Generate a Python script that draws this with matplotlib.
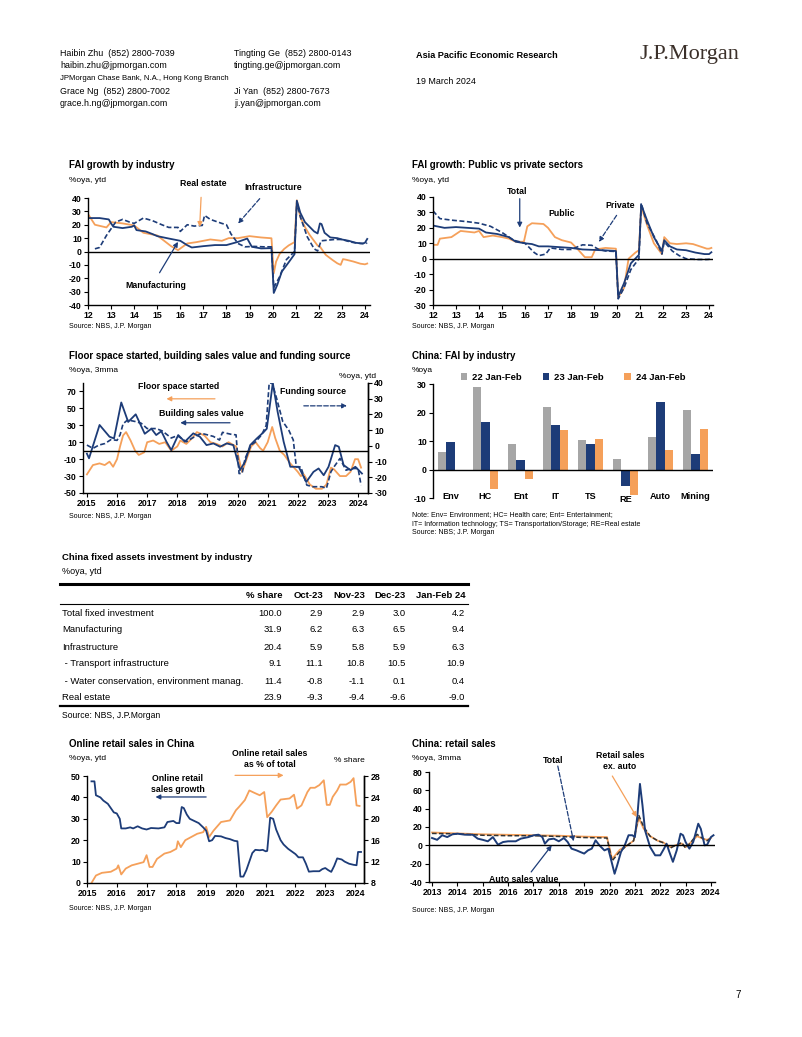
import numpy as np
import matplotlib.pyplot as plt

NAVY = "#1d3c78"
ORANGE = "#f5a05a"
GREY = "#a6a6a6"

plt.rcParams['font.family'] = ['Liberation Sans', 'DejaVu Sans']
plt.rcParams['axes.linewidth'] = 1.0
plt.rcParams['axes.unicode_minus'] = False
plt.rcParams['xtick.major.size'] = 3
plt.rcParams['ytick.major.size'] = 3

# ---------------- data ----------------
# FAI growth by industry (%oya, ytd), x = year - 2000
manufacturing = [(12.0, 25), (12.5, 25), (12.9, 24), (13.0, 21), (13.1, 18.5), (13.5, 17.5), (13.9, 18.5),
                 (14.0, 19.5), (14.1, 16), (14.5, 15), (14.8, 13), (15.0, 11.5), (15.5, 9.7), (16.0, 8),
                 (16.3, 4.7), (16.5, 3), (17.0, 4), (17.5, 4.8), (18.0, 4.8), (18.5, 7.2), (18.9, 9.7),
                 (19.1, 3.5), (19.5, 2.3), (19.95, 2.5), (20.05, -31), (20.2, -25), (20.4, -15), (20.7, -8),
                 (20.95, -2), (21.05, 38), (21.2, 29), (21.4, 22), (21.8, 15), (21.95, 13.5), (22.05, 21),
                 (22.12, 20.5), (22.25, 14), (22.5, 10.5), (22.8, 10), (23.0, 9), (23.3, 8), (23.6, 6.5),
                 (23.9, 6), (24.0, 6.5), (24.1, 9.4)]
real_estate = [(12.0, 28), (12.3, 20), (12.8, 18), (13.0, 22), (13.5, 21), (14.0, 19.5), (14.4, 14),
               (15.0, 12), (15.6, 4), (15.9, 1), (16.3, 6), (16.7, 7), (17.3, 9), (17.8, 8), (18.1, 10),
               (18.5, 10), (19.0, 11.5), (19.5, 10.5), (19.95, 9.9), (20.05, -16.3), (20.15, -7.6),
               (20.3, -1.9), (20.5, 1.9), (20.7, 4.6), (20.95, 7.0), (21.05, 38.3), (21.2, 25.6),
               (21.4, 18.3), (21.6, 12.5), (21.95, 4.4), (22.05, 3.7), (22.3, -2.5), (22.6, -6.4),
               (22.8, -8.8), (22.95, -10), (23.05, -5.7), (23.2, -6.2), (23.5, -7.5), (23.8, -9.1),
               (24.0, -9.6), (24.1, -9.0)]
infrastructure = [(12.3, 2), (12.5, 3), (12.8, 12), (13.0, 17), (13.2, 22), (13.5, 24), (13.8, 22),
                  (14.0, 21), (14.4, 25), (14.8, 23), (15.2, 20), (15.5, 18), (15.9, 18), (16.0, 15),
                  (16.3, 20), (16.6, 19), (16.95, 19.5), (17.05, 27), (17.3, 24), (17.8, 21), (18.0, 20),
                  (18.2, 13), (18.5, 6), (18.8, 3.5), (19.2, 3.8), (19.6, 3.5), (19.95, 3.5), (20.05, -27),
                  (20.3, -19), (20.6, -6), (20.95, 0), (21.05, 37), (21.2, 26), (21.5, 11), (21.8, 2),
                  (21.95, 0.4), (22.1, 8), (22.4, 8.5), (22.7, 9), (23.0, 9), (23.4, 7), (23.8, 6),
                  (24.0, 5.9), (24.1, 6.3)]

# FAI growth: public vs private (%oya, ytd)
fai_total = [(12.0, 21.5), (12.5, 20), (13.0, 20.5), (13.5, 20), (14.0, 19.5), (14.3, 17), (14.8, 16),
             (15.3, 14), (15.6, 11), (16.0, 10), (16.3, 9.5), (16.6, 8), (17.0, 8), (17.5, 7.5),
             (18.0, 7), (18.5, 6), (19.0, 5.7), (19.5, 5.4), (19.95, 5), (20.05, -24.5), (20.3, -16),
             (20.6, -3), (20.95, 2.5), (21.05, 35), (21.3, 25), (21.6, 14), (21.95, 5), (22.05, 12),
             (22.3, 8), (22.6, 6), (23.0, 5.5), (23.4, 4), (23.8, 3), (24.0, 3), (24.1, 4.2)]
fai_private = [(12.0, 31), (12.3, 26), (12.8, 25), (13.5, 24), (14.0, 23), (14.5, 21), (15.0, 17),
               (15.5, 12), (16.0, 10), (16.4, 4), (16.6, 2), (16.9, 3), (17.1, 7), (17.6, 6), (18.0, 6),
               (18.5, 9), (18.9, 8.7), (19.2, 6), (19.5, 5), (19.95, 4.7), (20.05, -26), (20.3, -19),
               (20.6, -7), (20.95, 0), (21.05, 36), (21.3, 23), (21.7, 12), (21.95, 3), (22.05, 11),
               (22.4, 5), (22.7, 2), (23.0, 0), (23.5, -0.5), (23.9, -0.5), (24.0, -0.4), (24.1, 0.5)]
fai_public = [(12.0, 9), (12.2, 9), (12.3, 13), (12.8, 14), (13.2, 18), (13.8, 17), (14.0, 18), (14.2, 14),
              (14.6, 15), (15.0, 14), (15.3, 13), (15.6, 11), (15.95, 11), (16.1, 21), (16.3, 23),
              (16.8, 22.5), (17.0, 20), (17.3, 14), (17.6, 12), (18.0, 10.5), (18.3, 6), (18.6, 1),
              (18.9, 1), (19.05, 6), (19.5, 7), (19.95, 6.5), (20.05, -25), (20.3, -19), (20.5, 0),
              (20.8, 4), (20.95, 5.5), (21.05, 34), (21.3, 22), (21.6, 10), (21.95, 3), (22.05, 14),
              (22.3, 10), (22.6, 9.5), (23.0, 10), (23.3, 9.5), (23.6, 8), (23.9, 6.5), (24.0, 6.5),
              (24.1, 7)]

# Floor space started / building sales value (%oya, 3mma, left) and funding source (%oya, ytd, right)
sales_value = [(2015.0, -3.5), (2015.07, -9), (2015.42, 30.4), (2015.75, 16.5), (2015.9, 14.5),
               (2016.14, 57), (2016.37, 34), (2016.62, 43), (2016.92, 20), (2017.14, 26), (2017.3, 18.5),
               (2017.47, 23), (2017.64, 10.6), (2017.8, 0.7), (2018.03, 18.5), (2018.25, 10.6),
               (2018.53, 20.5), (2018.75, 16.5), (2018.97, 6.6), (2019.2, 8.6), (2019.42, 4.7),
               (2019.64, 8.6), (2019.86, 6.6), (2020.08, -23), (2020.25, -13), (2020.42, 6.6),
               (2020.64, 14.5), (2020.86, 21.7), (2020.97, 26), (2021.17, 80), (2021.33, 46),
               (2021.53, 10.6), (2021.75, -19), (2022.03, -19), (2022.28, -37), (2022.52, -25),
               (2022.69, -21), (2022.86, -29), (2023.02, -19), (2023.24, 6.6), (2023.36, 4.7),
               (2023.52, -17), (2023.75, -23), (2023.91, -19), (2024.13, -27)]
floor_space = [(2015.0, -28), (2015.2, -17), (2015.42, -15), (2015.59, -17), (2015.75, -13), (2015.87, -19),
               (2016.0, -10), (2016.1, 5), (2016.2, 18), (2016.3, 22), (2016.45, 12), (2016.6, 0),
               (2016.72, -5), (2016.9, -2), (2017.0, 10), (2017.2, 12), (2017.4, 8), (2017.6, 10),
               (2017.8, 0), (2018.0, 5), (2018.1, 12), (2018.3, 8), (2018.5, 15), (2018.65, 22),
               (2018.9, 18), (2019.1, 10), (2019.3, 8), (2019.5, 5), (2019.7, 10), (2019.95, 5),
               (2020.05, -10), (2020.15, -25), (2020.3, -10), (2020.45, 5), (2020.6, 10), (2020.75, 3),
               (2020.85, 0), (2021.0, 10), (2021.15, 28), (2021.25, 15), (2021.4, 0), (2021.55, -5),
               (2021.75, -15), (2022.0, -25), (2022.1, -30), (2022.2, -28), (2022.4, -40), (2022.6, -45),
               (2022.8, -45), (2022.95, -40), (2023.1, -20), (2023.2, -22), (2023.4, -30), (2023.6, -30),
               (2023.75, -25), (2023.9, -10), (2024.0, -10), (2024.1, -20)]
funding = [(2015.0, 0.5), (2015.2, -1.6), (2015.4, 0.5), (2015.6, 1.5), (2015.8, 4), (2016.0, 3.5),
           (2016.1, 7), (2016.2, 14), (2016.35, 16.5), (2016.6, 15.5), (2016.8, 14.4), (2017.0, 11),
           (2017.3, 11), (2017.5, 9.5), (2017.8, 5), (2018.0, 6.5), (2018.3, 2.6), (2018.5, 5),
           (2018.8, 8), (2019.2, 6), (2019.4, 3.7), (2019.5, 8.6), (2019.8, 7.3), (2019.95, 7),
           (2020.05, -17.6), (2020.15, -17.6), (2020.25, -8), (2020.45, 0.5), (2020.6, 2.6), (2020.8, 7),
           (2020.95, 13), (2021.05, 40), (2021.15, 40), (2021.3, 30), (2021.5, 15.5), (2021.7, 10),
           (2021.85, 3.7), (2021.95, -13.4), (2022.1, -13.4), (2022.3, -25), (2022.5, -26), (2022.8, -26),
           (2022.95, -27), (2023.1, -16.5), (2023.2, -13.4), (2023.4, -8), (2023.6, -15.5),
           (2023.8, -14.4), (2024.0, -14.4), (2024.1, -25)]

# China: FAI by industry (%oya)
industries = ["Env", "HC", "Ent", "IT", "TS", "RE", "Auto", "Mining"]
fai_22 = [6.1, 28.8, 9.0, 22.1, 10.5, 3.8, 11.3, 21.0]
fai_23 = [9.6, 16.6, 3.2, 15.6, 9.1, -5.7, 23.6, 5.4]
fai_24 = [0.0, -6.8, -3.2, 13.7, 10.8, -8.9, 6.9, 14.2]
bar_series = ["22 Jan-Feb", "23 Jan-Feb", "24 Jan-Feb"]

# China fixed assets investment by industry (table)
table_cols = ["% share", "Oct-23", "Nov-23", "Dec-23", "Jan-Feb 24"]
table_rows = ["Total fixed investment", "Manufacturing", "Infrastructure", " - Transport infrastructure",
              " - Water conservation, environment manag.", "Real estate"]
table_vals = [[100.0, 2.9, 2.9, 3.0, 4.2],
              [31.9, 6.2, 6.3, 6.5, 9.4],
              [20.4, 5.9, 5.8, 5.9, 6.3],
              [9.1, 11.1, 10.8, 10.5, 10.9],
              [11.4, -0.8, -1.1, 0.1, 0.4],
              [23.9, -9.3, -9.4, -9.6, -9.0]]

# Online retail sales in China
online_growth = [(2015.15, 47.5), (2015.25, 47.5), (2015.3, 41), (2015.45, 40), (2015.55, 38.5),
                 (2015.7, 37), (2015.8, 35), (2015.9, 33), (2016.0, 32.5), (2016.1, 30), (2016.15, 25.5),
                 (2016.3, 25.5), (2016.45, 26), (2016.55, 25.5), (2016.7, 26.5), (2016.85, 25.5),
                 (2017.0, 25), (2017.15, 25.7), (2017.4, 25.5), (2017.6, 26), (2017.7, 28.5), (2017.9, 29),
                 (2018.0, 28), (2018.1, 28), (2018.18, 35.5), (2018.25, 35), (2018.35, 32), (2018.45, 30),
                 (2018.6, 29), (2018.75, 28), (2018.9, 26), (2019.0, 24.5), (2019.1, 19.5), (2019.2, 20),
                 (2019.3, 22), (2019.5, 21.8), (2019.65, 21), (2019.8, 20.5), (2019.95, 19.7),
                 (2020.05, 19.5), (2020.15, 3), (2020.25, 3), (2020.35, 6), (2020.45, 10), (2020.55, 14),
                 (2020.65, 15.5), (2020.8, 15.3), (2020.9, 15.5), (2021.0, 14.8), (2021.05, 15),
                 (2021.15, 30.5), (2021.25, 30), (2021.35, 25), (2021.5, 20), (2021.6, 18), (2021.75, 16),
                 (2021.9, 14.5), (2022.0, 13.5), (2022.1, 12), (2022.25, 12), (2022.35, 9), (2022.45, 5.3),
                 (2022.6, 5.5), (2022.8, 5.5), (2022.9, 6.5), (2023.0, 7), (2023.1, 6), (2023.2, 5.2),
                 (2023.3, 8), (2023.4, 11.5), (2023.55, 11), (2023.65, 10), (2023.8, 9), (2023.95, 8.5),
                 (2024.05, 8.3), (2024.1, 14.5), (2024.2, 14.5)]
online_share = [(2015.15, 8), (2015.3, 9.4), (2015.5, 9.9), (2015.8, 10.1), (2016.0, 10.7), (2016.05, 11.3),
                (2016.15, 9.6), (2016.3, 10.7), (2016.5, 11.3), (2016.7, 11.6), (2016.9, 11.9), (2017.0, 13.2),
                (2017.1, 11), (2017.2, 11), (2017.35, 12.5), (2017.6, 13.5), (2017.8, 13.8), (2018.0, 14.4),
                (2018.05, 15.8), (2018.15, 14.7), (2018.3, 16), (2018.5, 16.6), (2018.7, 17.2), (2018.9, 17.5),
                (2019.0, 18.5), (2019.1, 16.6), (2019.25, 17.8), (2019.5, 19.4), (2019.8, 19.7), (2020.0, 21.6),
                (2020.1, 22.2), (2020.3, 23.5), (2020.45, 25.3), (2020.6, 24.9), (2020.8, 24.4), (2020.95, 25),
                (2021.05, 20.3), (2021.2, 21.3), (2021.35, 22.5), (2021.5, 23.6), (2021.8, 23.8),
                (2021.95, 24.5), (2022.05, 21.9), (2022.2, 22.5), (2022.4, 25), (2022.5, 25.8),
                (2022.65, 25.8), (2022.8, 26.3), (2022.95, 27.2), (2023.05, 22.6), (2023.15, 22.6),
                (2023.25, 24.1), (2023.4, 25.3), (2023.5, 26.4), (2023.7, 26.4), (2023.85, 26.9),
                (2023.95, 27.6), (2024.05, 22.5), (2024.15, 22.4)]

# China: retail sales (%oya, 3mma)
auto_sales = [(2013.0, 8), (2013.2, 6), (2013.4, 11), (2013.6, 9), (2013.8, 12), (2014.0, 12.7),
              (2014.3, 11.6), (2014.6, 11.6), (2014.8, 7.3), (2015.0, 6), (2015.2, 4.4), (2015.4, 9),
              (2015.6, 0.7), (2015.8, 3.6), (2016.0, 4.4), (2016.3, 4.4), (2016.5, 7.3), (2016.8, 9),
              (2017.0, 10.9), (2017.2, 11.6), (2017.35, 9), (2017.45, 1.8), (2017.6, 6.5), (2017.8, 7.3),
              (2018.0, 4.4), (2018.2, 8), (2018.35, 3.6), (2018.5, -3.6), (2018.7, -5.5), (2018.85, -7.3),
              (2019.0, -9), (2019.15, -5.5), (2019.3, -3.6), (2019.45, 5.5), (2019.6, 0), (2019.8, -5.5),
              (2019.95, -3.6), (2020.05, -14.5), (2020.2, -31), (2020.3, -22), (2020.45, -7.3),
              (2020.6, 0), (2020.75, 11), (2020.9, 11), (2021.0, 9), (2021.1, 32.7), (2021.2, 67),
              (2021.3, 43.6), (2021.4, 16.4), (2021.6, -1.8), (2021.8, -10.9), (2022.0, -10.9),
              (2022.15, -3.6), (2022.25, 1.8), (2022.35, -6.5), (2022.5, -18), (2022.65, -5.5),
              (2022.8, 12.7), (2022.9, 11), (2023.0, 3.6), (2023.15, -3.6), (2023.3, 3.6), (2023.5, 23.6),
              (2023.6, 18), (2023.75, 0), (2023.85, 0.7), (2024.0, 9), (2024.1, 11)]
retail_total = [(2013.0, 13), (2014.0, 12.5), (2015.0, 11), (2016.0, 10.5), (2017.0, 10.5), (2018.0, 9.7),
                (2019.0, 8.5), (2019.9, 8), (2020.1, -17), (2020.4, -7), (2020.7, 0), (2020.95, 5),
                (2021.15, 33), (2021.35, 20), (2021.6, 10), (2021.9, 5), (2022.1, 3), (2022.4, -3),
                (2022.6, 0), (2022.85, 3), (2023.0, -3), (2023.2, 3), (2023.45, 12), (2023.7, 7),
                (2023.85, 5), (2024.0, 8)]
retail_ex_auto = [(2013.0, 14), (2014.0, 13), (2015.0, 12), (2016.0, 11.5), (2017.0, 11), (2018.0, 10.5),
                  (2019.0, 9.5), (2019.9, 9), (2020.1, -15), (2020.4, -5), (2020.7, 0), (2020.95, 5),
                  (2021.15, 30), (2021.35, 18), (2021.6, 10), (2021.9, 5), (2022.1, 3.5), (2022.4, -2),
                  (2022.6, 0), (2022.85, 2), (2023.0, -2), (2023.2, 3), (2023.45, 10), (2023.7, 7),
                  (2023.85, 6), (2024.0, 8)]

# ---------------- layout helpers ----------------
W, H = 802, 1037
fig = plt.figure(figsize=(W / 100, H / 100), dpi=100)

page = fig.add_axes([0, 0, 1, 1])
page.set_xlim(0, W)
page.set_ylim(H, 0)
page.axis('off')


def box(l, t, r, b):
    return [l / W, 1 - b / H, (r - l) / W, (b - t) / H]


def xy(pairs):
    a = np.array(pairs, dtype=float)
    return a[:, 0], a[:, 1]


def style(ax, right=False):
    ax.set_facecolor('none')
    ax.spines['top'].set_visible(False)
    if not right:
        ax.spines['right'].set_visible(False)
    ax.tick_params(labelsize=6.3, pad=1.5, direction='out', width=0.8)
    for lab in ax.get_xticklabels() + ax.get_yticklabels():
        lab.set_fontweight('bold')


def arrow(ax, start, end, color, ls='-'):
    ax.annotate("", xy=end, xytext=start, annotation_clip=False,
                arrowprops=dict(arrowstyle='-|>', color=color, lw=0.9, ls=ls, mutation_scale=7,
                                shrinkA=0, shrinkB=0))


def label(ax, x, y, text):
    ax.text(x, y, text, fontsize=6.3, fontweight='bold', ha='center', va='center', linespacing=1.25,
            clip_on=False)


def head(x, y, title, unit=None):
    page.text(x, y, title, fontsize=7, fontweight='bold', va='center')
    if unit:
        page.text(x, y + 15, unit, fontsize=6, va='center')


# ---------------- page header ----------------
narrow = ['Liberation Sans Narrow', 'Liberation Sans']
hdr = dict(fontsize=6.4, va='center', family=narrow)
page.text(60, 54, "Haibin Zhu  (852) 2800-7039", **hdr)
page.text(60, 66, "haibin.zhu@jpmorgan.com", **hdr)
page.text(60, 78, "JPMorgan Chase Bank, N.A., Hong Kong Branch", fontsize=5.6, va='center', family=narrow)
page.text(60, 91, "Grace Ng  (852) 2800-7002", **hdr)
page.text(60, 103, "grace.h.ng@jpmorgan.com", **hdr)
page.text(234, 54, "Tingting Ge  (852) 2800-0143", **hdr)
page.text(234, 66, "tingting.ge@jpmorgan.com", **hdr)
page.text(234, 91, "Ji Yan  (852) 2800-7673", **hdr)
page.text(234, 103, "ji.yan@jpmorgan.com", **hdr)
page.text(416, 55, "Asia Pacific Economic Research", fontsize=6.6, fontweight='bold', va='center')
page.text(416, 81, "19 March 2024", fontsize=6.4, va='center')
page.text(639, 55, "J.P.Morgan", fontsize=16, va='center', color='#3b302a',
          family=['Liberation Serif', 'DejaVu Serif'])
page.text(735, 995, "7", fontsize=7, va='center')

# ---------------- chart 1: FAI growth by industry ----------------
head(69, 165, "FAI growth by industry", "%oya, ytd")
page.text(69, 327, "Source: NBS, J.P. Morgan", fontsize=5, va='center')
ax1 = fig.add_axes(box(88, 198, 370, 305))
x, y = xy(real_estate)
ax1.plot(x, y, color=ORANGE, lw=1.3)
x, y = xy(infrastructure)
ax1.plot(x, y, color=NAVY, lw=1.2, ls=(0, (3, 1.5)))
x, y = xy(manufacturing)
ax1.plot(x, y, color=NAVY, lw=1.3)
ax1.axhline(0, color='black', lw=1)
ax1.set_xlim(12, 24.22)
ax1.set_ylim(-40, 40)
ax1.set_xticks(range(12, 25))
ax1.set_yticks(range(-40, 41, 10))
style(ax1)
label(ax1, 16.98, 50.5, "Real estate")
arrow(ax1, (16.9, 40.5), (16.84, 18.4), ORANGE)
label(ax1, 20.02, 47.7, "Infrastructure")
arrow(ax1, (19.44, 39.5), (18.5, 20.9), NAVY, ls='--')
label(ax1, 14.96, -25.1, "Manufacturing")
arrow(ax1, (15.1, -15.9), (15.9, 7.2), NAVY)

# ---------------- chart 2: FAI public vs private ----------------
head(412, 165, "FAI growth: Public vs private sectors", "%oya, ytd")
page.text(412, 327, "Source: NBS, J.P. Morgan", fontsize=5, va='center')
ax2 = fig.add_axes(box(433, 197, 713, 305))
x, y = xy(fai_public)
ax2.plot(x, y, color=ORANGE, lw=1.3)
x, y = xy(fai_private)
ax2.plot(x, y, color=NAVY, lw=1.2, ls=(0, (3, 1.5)))
x, y = xy(fai_total)
ax2.plot(x, y, color=NAVY, lw=1.3)
ax2.axhline(0, color='black', lw=1)
ax2.set_xlim(12, 24.17)
ax2.set_ylim(-30, 40)
ax2.set_xticks(range(12, 25))
ax2.set_yticks(range(-30, 41, 10))
style(ax2)
label(ax2, 15.67, 43.3, "Total")
arrow(ax2, (15.77, 38.9), (15.77, 20.2), NAVY)
label(ax2, 17.6, 29.2, "Public")
label(ax2, 20.13, 34.6, "Private")
arrow(ax2, (19.98, 28.1), (19.21, 10.9), NAVY, ls='--')

# ---------------- chart 3: floor space, sales value, funding ----------------
head(69, 356, "Floor space started, building sales value and funding source", "%oya, 3mma")
page.text(339, 376, "%oya, ytd", fontsize=6, va='center')
page.text(69, 517, "Source: NBS, J.P. Morgan", fontsize=5, va='center')
ax3 = fig.add_axes(box(83, 383, 368, 493))
ax3r = ax3.twinx()
x, y = xy(funding)
ax3r.plot(x, y, color=NAVY, lw=1.2, ls=(0, (3, 1.5)))
x, y = xy(floor_space)
ax3.plot(x, y, color=ORANGE, lw=1.3)
x, y = xy(sales_value)
ax3.plot(x, y, color=NAVY, lw=1.3)
ax3.axhline(0, color='black', lw=1)
ax3.set_xlim(2014.87, 2024.33)
ax3.set_ylim(-50, 80)
ax3r.set_ylim(-30, 40)
ax3.set_xticks(range(2015, 2025))
ax3.set_yticks(range(-50, 71, 20))
ax3r.set_yticks(range(-30, 41, 10))
style(ax3, right=True)
style(ax3r, right=True)
ax3r.spines['left'].set_visible(False)
ax3r.spines['bottom'].set_visible(False)
arrow(ax3, (2019.25, 61.3), (2017.64, 61.3), ORANGE)
label(ax3, 2018.03, 76, "Floor space started")
arrow(ax3, (2019.75, 33), (2018.1, 33), NAVY)
label(ax3, 2018.8, 44, "Building sales value")
arrow(ax3, (2022.2, 53), (2023.63, 53), NAVY, ls='--')
label(ax3, 2022.5, 70, "Funding source")

# ---------------- chart 4: FAI by industry bars ----------------
head(412, 356, "China: FAI by industry")
page.text(412, 371, "%oya", fontsize=6, va='center')
page.text(412, 515, "Note: Env= Environment; HC= Health care; Ent= Entertainment;", fontsize=5, va='center')
page.text(412, 524, "IT= Information technology; TS= Transportation/Storage; RE=Real estate", fontsize=5,
          va='center')
page.text(412, 533, "Source: NBS; J.P. Morgan", fontsize=5, va='center')
ax4 = fig.add_axes(box(433, 384, 713, 498))
pos = np.arange(len(industries))
bw = 0.23
for k, (vals, col) in enumerate(zip([fai_22, fai_23, fai_24], [GREY, NAVY, ORANGE])):
    ax4.bar(pos + (k - 1) * bw, vals, width=bw, color=col, label=bar_series[k])
ax4.axhline(0, color='black', lw=1)
ax4.set_xlim(-0.5, len(industries) - 0.5)
ax4.set_ylim(-10, 30)
ax4.set_yticks(range(-10, 31, 10))
ax4.set_xticks([])
style(ax4)
ax4.spines['bottom'].set_visible(False)
for i, lab in enumerate(industries):
    ax4.text(i, -10.6 if lab == "RE" else -9.3, lab, fontsize=6.6, fontweight='bold', ha='center',
             va='center')
ax4.legend(ncol=3, loc='center', bbox_to_anchor=(0.5, 1.06), frameon=False,
           handlelength=0.7, handleheight=0.7, columnspacing=2.2, handletextpad=0.5,
           prop=dict(weight='bold', size=6.8))

# ---------------- table ----------------
page.text(62, 557, "China fixed assets investment by industry", fontsize=6.8, fontweight='bold', va='center')
page.text(62, 571, "%oya, ytd", fontsize=6.5, va='center')
page.plot([60, 468], [584, 584], color='black', lw=2.2)
page.plot([60, 468], [604, 604], color='black', lw=0.8)
page.plot([60, 468], [706, 706], color='black', lw=1.6)
col_x = [282, 323, 365, 406, 465]
for cx, c in zip(col_x, table_cols):
    page.text(cx, 596, c, fontsize=6.8, fontweight='bold', ha='right', va='center')
row_y = [613, 630, 647, 664, 681, 697]
for ry, name, vals in zip(row_y, table_rows, table_vals):
    page.text(62, ry, name, fontsize=6.8, va='center')
    for cx, v in zip(col_x, vals):
        page.text(cx, ry, f"{v:.1f}", fontsize=6.8, ha='right', va='center')
page.text(62, 716, "Source: NBS, J.P.Morgan", fontsize=6.2, va='center')

# ---------------- chart 5: online retail sales ----------------
head(69, 744, "Online retail sales in China", "%oya, ytd")
page.text(334, 760, "% share", fontsize=6, va='center')
page.text(69, 908, "Source: NBS, J.P. Morgan", fontsize=5, va='center')
ax5 = fig.add_axes(box(87, 776, 364, 883))
ax5r = ax5.twinx()
x, y = xy(online_share)
ax5r.plot(x, y, color=ORANGE, lw=1.3)
x, y = xy(online_growth)
ax5.plot(x, y, color=NAVY, lw=1.3)
ax5.set_xlim(2015, 2024.3)
ax5.set_ylim(0, 50)
ax5r.set_ylim(8, 28)
ax5.set_xticks(range(2015, 2025))
ax5.set_yticks(range(0, 51, 10))
ax5r.set_yticks(range(8, 29, 4))
style(ax5, right=True)
style(ax5r, right=True)
ax5r.spines['left'].set_visible(False)
ax5r.spines['bottom'].set_visible(False)
ax5.set_zorder(ax5r.get_zorder() + 1)
arrow(ax5, (2019.97, 50.3), (2021.6, 50.3), ORANGE)
label(ax5, 2021.15, 58, "Online retail sales\nas % of total")
arrow(ax5, (2019.0, 40.2), (2017.3, 40.2), NAVY)
label(ax5, 2018.05, 46.4, "Online retail\nsales growth")

# ---------------- chart 6: retail sales ----------------
head(412, 744, "China: retail sales", "%oya, 3mma")
page.text(412, 911, "Source: NBS, J.P. Morgan", fontsize=5, va='center')
ax6 = fig.add_axes(box(429, 772, 715, 882))
x, y = xy(retail_ex_auto)
ax6.plot(x, y, color=ORANGE, lw=1.3)
x, y = xy(retail_total)
ax6.plot(x, y, color='#333333', lw=1.1, ls=(0, (3, 1.5)))
x, y = xy(auto_sales)
ax6.plot(x, y, color=NAVY, lw=1.4)
ax6.axhline(0, color='black', lw=1)
ax6.set_xlim(2012.88, 2024.16)
ax6.set_ylim(-40, 80)
ax6.set_xticks(range(2013, 2025))
ax6.set_yticks(range(-40, 81, 20))
style(ax6)
label(ax6, 2017.79, 92.7, "Total")
arrow(ax6, (2017.96, 86.5), (2018.58, 4.4), NAVY, ls='--')
label(ax6, 2020.41, 91.6, "Retail sales\nex. auto")
arrow(ax6, (2020.11, 75.6), (2021.07, 30.9), ORANGE)
label(ax6, 2016.61, -37, "Auto sales value")
arrow(ax6, (2016.91, -29), (2017.72, 0), NAVY)

fig.savefig("out.png", dpi=100)
